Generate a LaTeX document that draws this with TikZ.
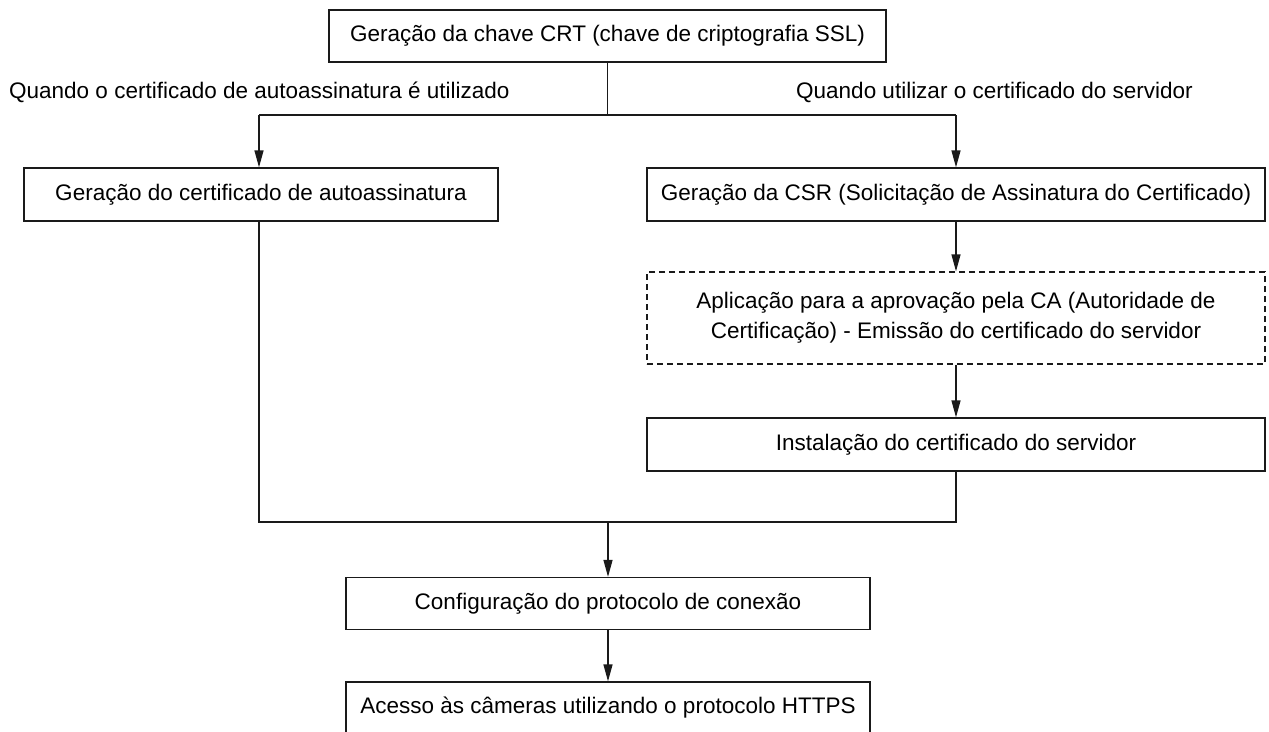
\documentclass[tikz,border=0pt]{standalone}
\usepackage{fontspec}
\setmainfont{Liberation Sans}
\usetikzlibrary{arrows.meta}
\definecolor{linec}{HTML}{1A1A1A}
\tikzset{
  x=1pt, y=-1pt,
  every node/.style={font=\fontsize{22.5}{30}\selectfont, text=black, inner sep=0pt},
  stepbox/.style={draw=linec, line width=1.3pt, rectangle, align=center},
  dashbox/.style={stepbox, dash pattern=on 6pt off 4pt},
  conn/.style={draw=linec, line width=1.3pt},
  arr/.style={conn, -{Triangle[length=17pt, width=9pt]}}
}
\begin{document}
\begin{tikzpicture}
\clip (0,0) rectangle (1269,731);
\fill[white] (0,0) rectangle (1269,731);

\node[stepbox, minimum width=557pt, minimum height=52pt] (crt) at (607.5,36) {Geração da chave CRT (chave de criptografia SSL)};

\node[anchor=west] (lblL) at (9,92) {Quando o certificado de autoassinatura é utilizado};
\node[anchor=west] (lblR) at (796,92) {Quando utilizar o certificado do servidor};

\node[stepbox, minimum width=474pt, minimum height=53pt] (self) at (261,194.5) {Geração do certificado de autoassinatura};
\node[stepbox, minimum width=618pt, minimum height=53pt] (csr) at (956,194.5) {Geração da CSR (Solicitação de Assinatura do Certificado)};
\node[dashbox, minimum width=618pt, minimum height=92pt] (ca) at (956,318) {Aplicação para a aprovação pela CA (Autoridade de\\Certificação) - Emissão do certificado do servidor};
\node[stepbox, minimum width=618pt, minimum height=53pt] (inst) at (956,444.5) {Instalação do certificado do servidor};
\node[stepbox, minimum width=524pt, minimum height=52pt] (conf) at (608,603.5) {Configuração do protocolo de conexão};
\node[stepbox, minimum width=524pt, minimum height=52pt] (https) at (608,708) {Acesso às câmeras utilizando o protocolo HTTPS};

\coordinate (split) at (607.5,115);
\coordinate (splitL) at (259,115);
\coordinate (splitR) at (956,115);
\coordinate (joinL) at (259,522);
\coordinate (joinR) at (956,522);
\coordinate (join) at (608,522);

\draw[conn] (crt.south -| split) -- (split);
\draw[conn] (splitL) -- (splitR);
\draw[arr] (splitL) -- (splitL |- self.north);
\draw[arr] (splitR) -- (csr.north);
\draw[arr] (csr.south) -- (ca.north);
\draw[arr] (ca.south) -- (inst.north);
\draw[conn] (self.south -| joinL) -- (joinL) -- (joinR) -- (inst.south);
\draw[arr] (join) -- (conf.north);
\draw[arr] (conf.south) -- (https.north);
\end{tikzpicture}
\end{document}
